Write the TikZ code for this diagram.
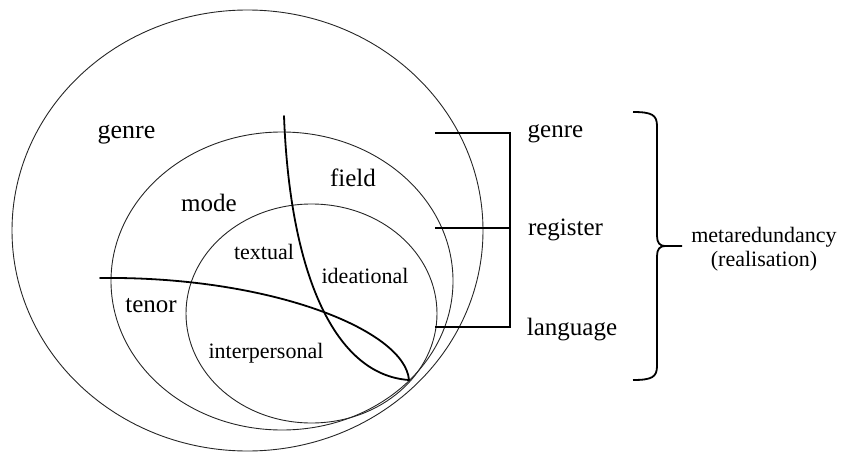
\documentclass[tikz,border=0pt]{standalone}
\usepackage{fontspec}
\setmainfont{Liberation Serif}
\usetikzlibrary{shapes.geometric}
\begin{document}
\begin{tikzpicture}[x=1pt,y=-1pt,
  ring/.style={draw=black!85, line width=0.9pt, ellipse, inner sep=0pt},
  strand/.style={line width=1.8pt, line cap=round},
  tie/.style={line width=1.8pt},
  big/.style={font=\fontsize{25}{30}\selectfont, inner sep=0pt, anchor=base},
  small/.style={font=\fontsize{22}{26}\selectfont, inner sep=0pt, anchor=base},
]
\useasboundingbox (0,0) rectangle (841,452);

% nested strata: genre, register, language
\node[ring, minimum width=471pt, minimum height=441pt] (genreRing) at (247.5,230.5) {};
\node[ring, minimum width=342pt, minimum height=298pt] (registerRing) at (282,281) {};
\node[ring, minimum width=251pt, minimum height=219pt] (languageRing) at (311.5,313.5) {};

% metafunctional divisions
\coordinate (vTop) at (284,116);
\coordinate (hLeft) at (100,278);
\coordinate (tip) at (409,380);
\draw[strand] (vTop) .. controls (290,275) and (335,375) .. (tip);
\draw[strand] (hLeft) .. controls (270,276) and (405,330) .. (tip);

% labels inside the rings
\node[big, font=\fontsize{26}{30}\selectfont] (lGenre) at (126.5,139) {genre};
\node[big] (lField) at (353,186) {field};
\node[big] (lMode) at (209,211) {mode};
\node[big] (lTenor) at (151,312) {tenor};
\node[small] (lTextual) at (264,259) {textual};
\node[small] (lIdeational) at (365,283) {ideational};
\node[small] (lInterpersonal) at (266,358) {interpersonal};

% stratum names on the right
\node[big] (rGenre) at (555.5,137) {genre};
\node[big] (rRegister) at (565.5,235) {register};
\node[big] (rLanguage) at (572,335) {language};

% bracket joining the strata
\coordinate (g0) at (435,133);
\coordinate (g1) at (510,133);
\coordinate (r0) at (435,228);
\coordinate (r1) at (510,228);
\coordinate (l0) at (435,327);
\coordinate (l1) at (510,327);
\draw[tie] (g0) -- (g1) -- (l1) -- (l0);
\draw[tie] (r0) -- (r1);

% curly brace
\coordinate (bTop) at (633,112);
\coordinate (bMid) at (682,246);
\coordinate (bBot) at (633,380);
\draw[tie] (bTop) .. controls (652,112) and (657,115) .. (657,126)
  -- (657,236) .. controls (657,243) and (660,246) .. (665,246) -- (bMid);
\draw[tie] (665,246) .. controls (660,246) and (657,249) .. (657,256)
  -- (657,366) .. controls (657,377) and (652,380) .. (bBot);

\node[small] (meta1) at (764,242) {metaredundancy};
\node[small] (meta2) at (764,266) {(realisation)};
\end{tikzpicture}
\end{document}
